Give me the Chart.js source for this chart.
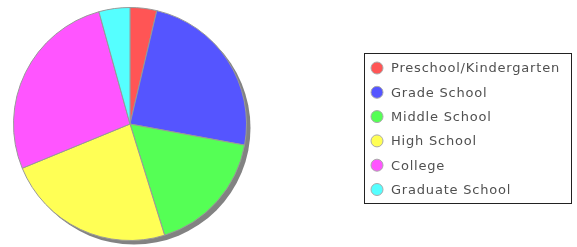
<!DOCTYPE html>
<html>
<head>
<meta charset="utf-8">
<script src="https://cdn.jsdelivr.net/npm/chart.js@4"></script>
<style>
  html, body { margin: 0; padding: 0; background: #fff; }
  #wrap { width: 577px; height: 247px; position: relative; }
</style>
</head>
<body>
<div id="wrap"><canvas id="pieChart" width="577" height="247"></canvas></div>
<script>
const categories = ['Preschool/Kindergarten', 'Grade School', 'Middle School', 'High School', 'College', 'Graduate School'];
const shares = [3.7, 24.2, 17.3, 23.6, 26.9, 4.3];
const sliceColors = ['#ff5555', '#5555ff', '#55ff55', '#ffff55', '#ff55ff', '#55ffff'];

// shadow behind the pie, offset down-right
const pieShadow = {
    id: 'pieShadow',
    beforeDatasetsDraw(chart) {
        const arc = chart.getDatasetMeta(0).data[0];
        if (!arc) return;
        const ctx = chart.ctx;
        ctx.save();
        ctx.filter = 'blur(0.7px)';
        ctx.fillStyle = '#828282';
        ctx.beginPath();
        ctx.arc(arc.x + 4, arc.y + 4, arc.outerRadius, 0, Math.PI * 2);
        ctx.fill();
        ctx.restore();
    }
};

// boxed legend on the right
const boxLegend = {
    id: 'boxLegend',
    afterDraw(chart) {
        const ctx = chart.ctx;
        const left = 364.5, top = 53.5, w = 207, h = 150;
        ctx.save();
        ctx.fillStyle = '#fff';
        ctx.fillRect(left, top, w, h);
        ctx.strokeStyle = '#222';
        ctx.lineWidth = 1;
        ctx.strokeRect(left, top, w, h);
        ctx.font = '13px "DejaVu Sans"';
        ctx.letterSpacing = '0.8px';
        ctx.textBaseline = 'middle';
        const labels = chart.data.labels;
        const colors = chart.data.datasets[0].backgroundColor;
        labels.forEach((lab, i) => {
            const y = 68 + i * 24.3;
            ctx.beginPath();
            ctx.arc(377, y, 6, 0, Math.PI * 2);
            ctx.fillStyle = colors[i];
            ctx.fill();
            ctx.strokeStyle = '#aaa';
            ctx.stroke();
            ctx.fillStyle = '#505050';
            ctx.fillText(lab, 391, y + 1);
        });
        ctx.restore();
    }
};

new Chart(document.getElementById('pieChart').getContext('2d'), {
    type: 'pie',
    data: {
        labels: categories,
        datasets: [{
            data: shares,
            backgroundColor: sliceColors,
            borderColor: '#999',
            borderWidth: 1
        }]
    },
    options: {
        responsive: false,
        animation: false,
        layout: { padding: { left: 13, right: 330, top: 7, bottom: 6 } },
        plugins: {
            legend: { display: false },
            tooltip: { enabled: false }
        }
    },
    plugins: [pieShadow, boxLegend]
});
</script>
</body>
</html>
